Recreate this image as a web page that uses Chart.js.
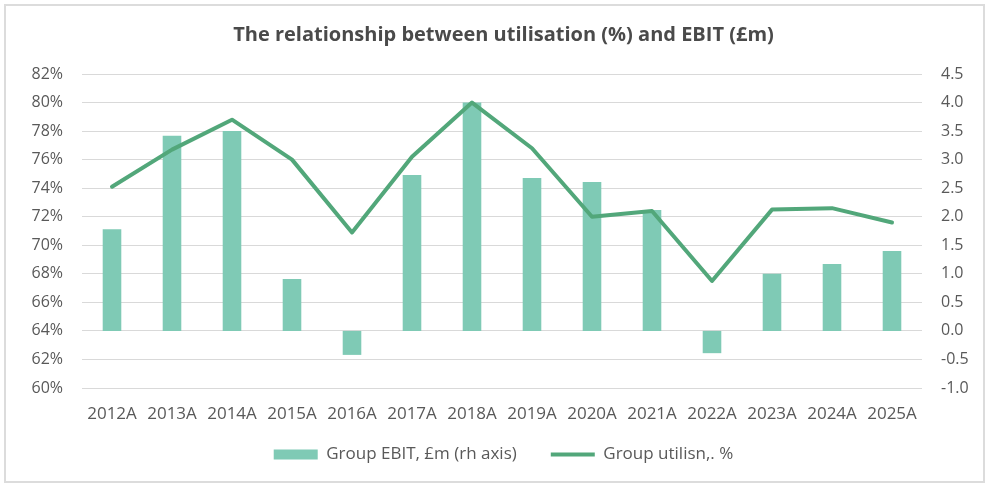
<!DOCTYPE html>
<html>
<head>
<meta charset="utf-8">
<script src="https://cdn.jsdelivr.net/npm/chart.js@4"></script>
<style>
  html, body { margin: 0; padding: 0; background: #fff; }
  #wrap { position: relative; width: 991px; height: 485px; }
  #frame { position: absolute; left: 4px; top: 4px; width: 977px; height: 475px; border: 2px solid #dcdcdc; }
  canvas { position: absolute; left: 0; top: 0; }
</style>
</head>
<body>
<div id="wrap">
  <div id="frame"></div>
  <canvas id="chart" width="991" height="485"></canvas>
</div>
<script>
const years = ['2012A', '2013A', '2014A', '2015A', '2016A', '2017A', '2018A',
               '2019A', '2020A', '2021A', '2022A', '2023A', '2024A', '2025A'];

// Group EBIT, £m (right axis)
const ebit = [1.78, 3.42, 3.50, 0.91, -0.42, 2.73, 4.0, 2.68, 2.61, 2.12, -0.39, 1.0, 1.17, 1.40];

// Group utilisation, % (left axis)
const utilisation = [74.1, 76.7, 78.8, 76.0, 70.9, 76.2, 80.0, 76.8, 72.0, 72.4, 67.5, 72.5, 72.6, 71.6];

const barColor = '#7fcab5';
const lineColor = '#52a77a';
const textColor = '#595959';
const gridColor = '#d9d9d9';

Chart.defaults.font.family = '"Open Sans", sans-serif';
Chart.defaults.color = textColor;

// legend items need a wide gap between them but a short legend box
const legendFix = {
  id: 'legendFix',
  beforeLayout(chart) {
    const lg = chart.legend;
    if (lg && !lg._patched) {
      const fit = lg.fit;
      lg.fit = function () {
        fit.call(this);
        this.height = 53;
      };
      lg._patched = true;
    }
  },
  afterLayout(chart) {
    const lg = chart.legend;
    if (lg) {
      lg.top -= 20;
      lg.bottom -= 20;
    }
  }
};

new Chart(document.getElementById('chart'), {
  type: 'bar',
  data: {
    labels: years,
    datasets: [{
      type: 'bar',
      label: 'Group EBIT, £m (rh axis)',
      data: ebit,
      yAxisID: 'yRight',
      backgroundColor: barColor,
      borderWidth: 0,
      barPercentage: 0.31,
      categoryPercentage: 1,
      pointStyle: 'rect',
      order: 1,
    }, {
      type: 'line',
      label: 'Group utilisn,. %',
      data: utilisation,
      yAxisID: 'yLeft',
      borderColor: lineColor,
      backgroundColor: lineColor,
      borderWidth: 4,
      borderCapStyle: 'round',
      borderJoinStyle: 'round',
      tension: 0,
      pointRadius: 0,
      pointStyle: 'line',
      order: 0,
    }]
  },
  options: {
    responsive: false,
    animation: false,
    layout: { padding: { left: 16, right: 0, top: 0, bottom: 0 } },
    scales: {
      x: {
        grid: { display: false },
        border: { display: false },
        ticks: { font: { size: 17 }, padding: 8, maxRotation: 0, autoSkip: false },
        afterFit(scale) { scale.height = 44; }
      },
      yLeft: {
        position: 'left',
        min: 60,
        max: 82,
        grid: { color: gridColor, lineWidth: 1, drawTicks: false },
        border: { display: false },
        ticks: {
          stepSize: 2,
          padding: 19,
          font: { size: 16 },
          callback: (v) => v + '%'
        },
        afterFit(scale) { scale.width = 66; }
      },
      yRight: {
        position: 'right',
        min: -1,
        max: 4.5,
        grid: { display: false, drawTicks: false },
        border: { display: false },
        ticks: {
          stepSize: 0.5,
          padding: 19,
          font: { size: 16 },
          callback: (v) => v.toFixed(1)
        },
        afterFit(scale) { scale.width = 69; }
      }
    },
    plugins: {
      title: {
        display: true,
        text: 'The relationship between utilisation (%) and EBIT (£m)',
        color: '#4a4a4a',
        font: { size: 20, weight: 'bold' },
        padding: { top: 23, bottom: 27 }
      },
      legend: {
        position: 'bottom',
        labels: {
          usePointStyle: true,
          pointStyleWidth: 44,
          boxHeight: 10,
          padding: 34,
          font: { size: 17 },
          color: textColor,
          sort: (a, b) => a.datasetIndex - b.datasetIndex
        }
      },
      tooltip: { enabled: false }
    }
  },
  plugins: [legendFix]
});
</script>
</body>
</html>
